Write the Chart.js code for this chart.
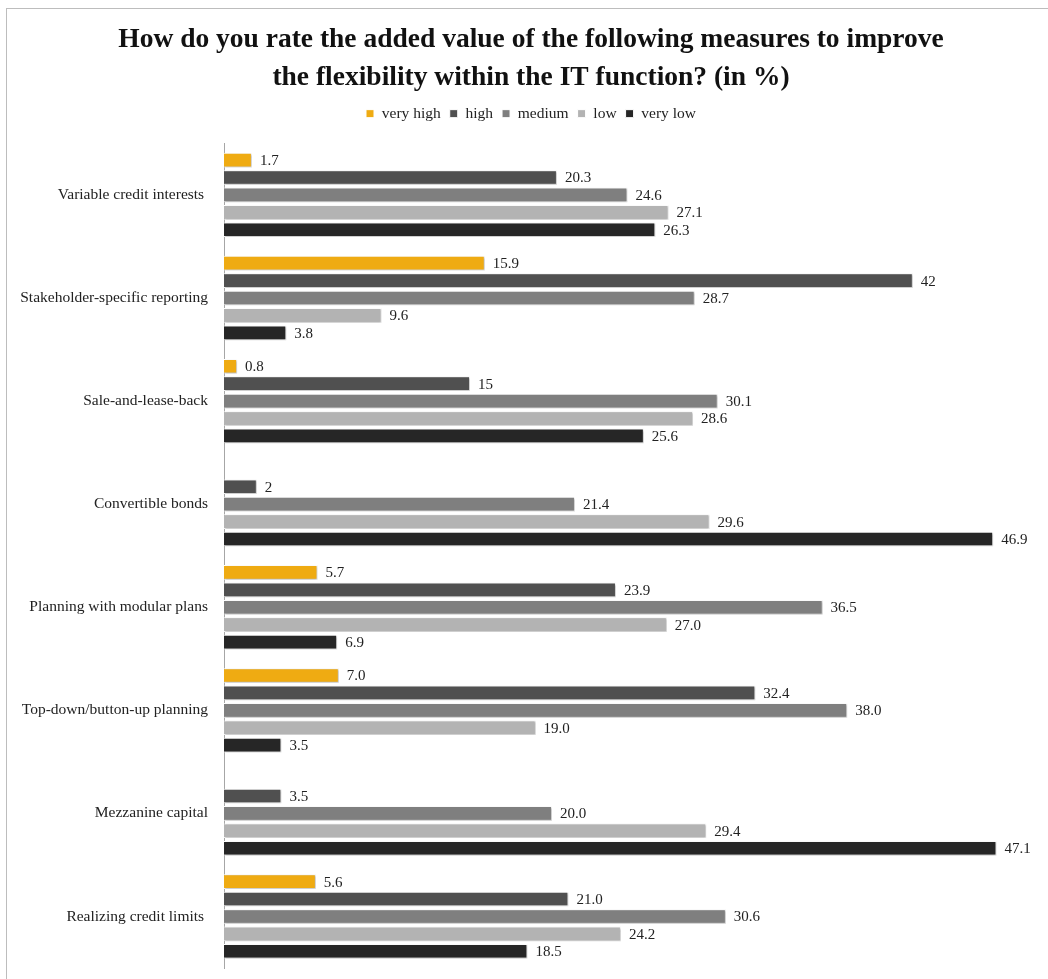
<!DOCTYPE html>
<html>
<head>
<meta charset="utf-8">
<script src="https://cdn.jsdelivr.net/npm/chart.js@4/dist/chart.umd.min.js"></script>
<style>
    html, body { margin: 0; padding: 0; background: #fff; }
    #frame {
        position: absolute; left: 6px; top: 8px; width: 1060px; height: 1000px;
        border: 1px solid #bdbdbd; box-sizing: border-box;
    }
    #wrap { position: absolute; left: 0; top: 0; width: 1048px; height: 979px; }
</style>
</head>
<body>
<div id="frame"></div>
<div id="wrap"><canvas id="ratingPlot" width="1048" height="979"></canvas></div>
<script>
// Measures asked about
var measures = [
    'Variable credit interests ',
    'Stakeholder-specific reporting',
    'Sale-and-lease-back',
    'Convertible bonds',
    'Planning with modular plans',
    'Top-down/button-up planning',
    'Mezzanine capital',
    'Realizing credit limits '
];

// Share of answers per rating (in %)
var veryHigh = [1.7, 15.9, 0.8, null, 5.7, 7.0, null, 5.6];
var high     = [20.3, 42, 15, 2, 23.9, 32.4, 3.5, 21.0];
var medium   = [24.6, 28.7, 30.1, 21.4, 36.5, 38.0, 20.0, 30.6];
var low      = [27.1, 9.6, 28.6, 29.6, 27.0, 19.0, 29.4, 24.2];
var veryLow  = [26.3, 3.8, 25.6, 46.9, 6.9, 3.5, 47.1, 18.5];

// Decimals shown in the value labels of each measure (null = as is)
var labelDigits = [null, null, null, null, 1, 1, 1, 1];

var SERIF = '"Liberation Serif", "DejaVu Serif", serif';

function formatValue(value, row) {
    if (labelDigits[row] === null)
        return String(value);
    return value.toFixed(labelDigits[row]);
}

// Soft drop shadow under the bars
var barShadow = {
    id: 'barShadow',
    beforeDatasetsDraw: function(chart) {
        var ctx = chart.ctx;
        ctx.save();
        ctx.shadowColor = 'rgba(0, 0, 0, 0.28)';
        ctx.shadowBlur = 2;
        ctx.shadowOffsetX = 1;
        ctx.shadowOffsetY = 1;
    },
    afterDatasetsDraw: function(chart) {
        chart.ctx.restore();
    }
};

// Value written to the right of each bar
var valueLabels = {
    id: 'valueLabels',
    afterDraw: function(chart) {
        var ctx = chart.ctx;
        ctx.save();
        ctx.font = '15px ' + SERIF;
        ctx.fillStyle = '#222';
        ctx.textAlign = 'left';
        ctx.textBaseline = 'middle';
        chart.data.datasets.forEach(function(ds, i) {
            var meta = chart.getDatasetMeta(i);
            meta.data.forEach(function(bar, row) {
                var v = ds.data[row];
                if (v === null || v === undefined)
                    return;
                ctx.fillText(formatValue(v, row), bar.x + 8, bar.y + 1);
            });
        });
        ctx.restore();
    }
};

function series(label, data, color) {
    return {
        label: label,
        data: data,
        backgroundColor: color,
        borderColor: '#ffffff',
        borderWidth: 1,
        categoryPercentage: 0.845,
        barPercentage: 0.84
    };
}

var ratingPlot = new Chart(document.getElementById('ratingPlot'), {
    type: 'bar',
    data: {
        labels: measures,
        datasets: [
            series('very high', veryHigh, '#efab12'),
            series('high', high, '#505050'),
            series('medium', medium, '#7f7f7f'),
            series('low', low, '#b3b3b3'),
            series('very low', veryLow, '#262626')
        ]
    },
    plugins: [barShadow, valueLabels],
    options: {
        indexAxis: 'y',
        responsive: false,
        animation: false,
        layout: { padding: { left: 18, right: 4, top: 0, bottom: 0 } },
        plugins: {
            title: {
                display: true,
                text: ['How do you rate the added value of the following measures to improve',
                       'the flexibility within the IT function? (in %)'],
                color: '#111',
                font: { family: SERIF, size: 27.5, weight: 'bold', lineHeight: 1.38 },
                padding: { top: 21, bottom: 0 }
            },
            legend: {
                position: 'top',
                labels: {
                    color: '#222',
                    font: { family: SERIF, size: 15.5 },
                    boxWidth: 8,
                    boxHeight: 8,
                    padding: 9
                }
            },
            tooltip: { enabled: false }
        },
        scales: {
            x: {
                min: 0,
                max: 50,
                position: 'top',
                grid: { display: false },
                border: { display: false },
                ticks: { display: false },
                afterFit: function(scale) {
                    // blank strip between legend and bars
                    scale.height = 12;
                }
            },
            y: {
                grid: { display: false, drawTicks: false },
                border: { display: true, color: '#a6a6a6', width: 1 },
                ticks: {
                    color: '#222',
                    font: { family: SERIF, size: 15.5 },
                    padding: 16
                },
                afterFit: function(scale) {
                    // axis line at x=224, plot down to y=968
                    scale.width = 206;
                    scale.paddingTop = 0;
                    scale.paddingBottom = 11;
                }
            }
        }
    }
});
</script>
</body>
</html>
